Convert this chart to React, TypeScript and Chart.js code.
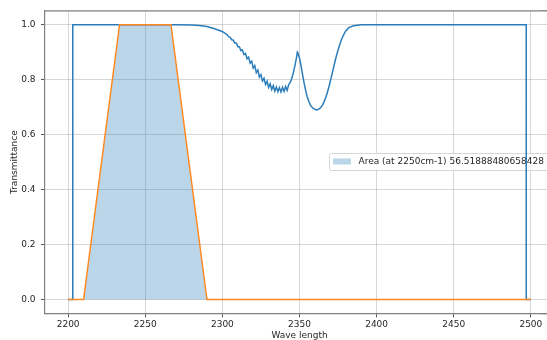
import React, { useEffect, useRef } from "react";
import { Chart, registerables } from "chart.js";

Chart.register(...registerables);

// Transmittance curve (blue)
const blueX: number[] = [
  2200, 2203, 2203, 2270, 2280, 2285, 2290, 2295, 2299, 2301, 2302, 2303,
  2304, 2305, 2306, 2307, 2308, 2309,
  2310, 2311, 2312, 2313, 2314, 2315, 2316, 2317, 2318, 2319, 2320,
  2321, 2322, 2323, 2324, 2325, 2326, 2327, 2328, 2329, 2330, 2331,
  2332, 2333, 2334, 2335, 2336, 2337, 2338, 2339, 2340, 2341, 2342,
  2343, 2344, 2345, 2346, 2347, 2348, 2348.6, 2349, 2350, 2351, 2352,
  2353, 2354, 2355, 2356, 2357, 2358, 2359, 2360, 2361, 2362, 2363,
  2364, 2365, 2366, 2367, 2368, 2369, 2370, 2371, 2372, 2373, 2374,
  2375, 2376, 2377, 2378, 2379, 2380, 2382, 2385, 2390, 2497, 2497, 2500,
];
const blueY: number[] = [
  0, 0, 1, 1, 0.999, 0.997, 0.993, 0.985, 0.977, 0.972, 0.967, 0.964,
  0.956, 0.954, 0.945, 0.944, 0.933, 0.933,
  0.92, 0.92, 0.905, 0.908, 0.891, 0.895, 0.876, 0.882, 0.86, 0.867, 0.842,
  0.851, 0.825, 0.835, 0.809, 0.818, 0.795, 0.805, 0.782, 0.794, 0.772, 0.785,
  0.764, 0.778, 0.758, 0.773, 0.756, 0.771, 0.755, 0.772, 0.757, 0.775, 0.761,
  0.782, 0.79, 0.805, 0.825, 0.85, 0.878, 0.9, 0.897, 0.878, 0.85, 0.818,
  0.787, 0.76, 0.738, 0.721, 0.708, 0.7, 0.695, 0.692, 0.69, 0.691, 0.694,
  0.7, 0.708, 0.72, 0.735, 0.752, 0.772, 0.795, 0.818, 0.842, 0.866, 0.888,
  0.908, 0.926, 0.942, 0.956, 0.967, 0.977, 0.989, 0.996, 1, 1, 0, 0,
];

// Filter window (orange trapezoid)
const orangeX: number[] = [2200, 2210, 2233.33, 2266.67, 2290, 2500];
const orangeY: number[] = [0, 0, 1, 1, 0, 0];

const xTicks: number[] = [2200, 2250, 2300, 2350, 2400, 2450, 2500];
const yTicks: number[] = [0, 0.2, 0.4, 0.6, 0.8, 1.0];

const legendLabel = "Area (at 2250cm-1) 56.51888480658428";
const xTitle = "Wave length";
const yTitle = "Transmittance";

const FONT = "DejaVu Sans";
const TEXT = "#262626";
const GRID = "rgba(176,176,176,0.5)";
const SPINE = "#808080";
const FILL = "rgba(31,119,180,0.3)";

const align = (p: number, w: number) => Math.round(p - w / 2) + w / 2;

function drawLegend(ctx: CanvasRenderingContext2D) {
  const bx = 329.5, by = 153.5, bw = 240, bh = 17;
  const r = 2;
  ctx.fillStyle = "rgba(255,255,255,0.9)";
  ctx.fillRect(bx, by, bw, bh);
  ctx.beginPath();
  ctx.moveTo(bx + bw, by);
  ctx.lineTo(bx + r, by);
  ctx.arcTo(bx, by, bx, by + r, r);
  ctx.lineTo(bx, by + bh - r);
  ctx.arcTo(bx, by + bh, bx + r, by + bh, r);
  ctx.lineTo(bx + bw, by + bh);
  ctx.strokeStyle = "#d6d6d6";
  ctx.lineWidth = 1;
  ctx.stroke();
  ctx.fillStyle = FILL;
  ctx.fillRect(333, 158.5, 18, 6);
  ctx.fillStyle = TEXT;
  ctx.font = `9px "${FONT}"`;
  ctx.textBaseline = "middle";
  ctx.textAlign = "left";
  ctx.fillText(legendLabel, 358.5, 162);
}

export default function App() {
  const ref = useRef<HTMLCanvasElement | null>(null);

  useEffect(() => {
    if (!ref.current) return;
    const blue = blueX.map((x, i) => ({ x, y: blueY[i] }));
    const orange = orangeX.map((x, i) => ({ x, y: orangeY[i] }));
    const area = orangeX.map((x, i) => ({ x, y: orangeY[i] }));

    const framePlugin = {
      id: "frame",
      beforeDatasetsDraw(chart: any) {
        const { ctx } = chart;
        ctx.save();
        drawLegend(ctx);
        ctx.restore();
      },
      afterDraw(chart: any) {
        const { ctx, chartArea, scales } = chart;
        // top spine
        ctx.save();
        ctx.strokeStyle = SPINE;
        ctx.lineWidth = 1.2;
        ctx.beginPath();
        ctx.moveTo(chartArea.left, chartArea.top);
        ctx.lineTo(chartArea.right, chartArea.top);
        ctx.stroke();
        ctx.restore();

        // repaint the thin strip at the right edge of the visible picture
        const sx = 541, sw = 20;
        ctx.save();
        ctx.beginPath();
        ctx.rect(sx, 0, sw, 340);
        ctx.clip();
        ctx.fillStyle = "#fff";
        ctx.fillRect(sx, chartArea.top, sw, chartArea.bottom - chartArea.top);
        ctx.strokeStyle = GRID;
        ctx.lineWidth = 1;
        for (const v of yTicks) {
          const py = align(scales.y.getPixelForValue(v), 1);
          ctx.beginPath();
          ctx.moveTo(sx, py);
          ctx.lineTo(sx + sw, py);
          ctx.stroke();
        }
        drawLegend(ctx);
        ctx.strokeStyle = SPINE;
        ctx.lineWidth = 1.2;
        ctx.beginPath();
        ctx.moveTo(sx, chartArea.top);
        ctx.lineTo(sx + sw, chartArea.top);
        ctx.stroke();
        const by = align(chartArea.bottom, 1.2);
        ctx.beginPath();
        ctx.moveTo(sx, by);
        ctx.lineTo(sx + sw, by);
        ctx.stroke();
        ctx.restore();
      },
    };

    const chart = new Chart(ref.current, {
      type: "line",
      data: {
        datasets: [
          {
            label: "area",
            data: area,
            borderWidth: 0,
            pointRadius: 0,
            fill: "origin",
            backgroundColor: FILL,
            borderColor: "rgba(0,0,0,0)",
            tension: 0,
            order: 3,
          },
          {
            label: "T",
            data: blue,
            borderColor: "#2a7dba",
            borderWidth: 1.5,
            pointRadius: 0,
            fill: false,
            tension: 0,
            order: 2,
          },
          {
            label: "window",
            data: orange,
            borderColor: "#ff8a22",
            borderWidth: 1.5,
            pointRadius: 0,
            fill: false,
            tension: 0,
            order: 1,
          },
        ],
      },
      options: {
        animation: false,
        responsive: false,
        layout: { padding: { top: 10.7, right: 66, left: 0, bottom: 0 } },
        plugins: { legend: { display: false }, tooltip: { enabled: false } },
        scales: {
          x: {
            type: "linear",
            min: 2185,
            max: 2515,
            afterBuildTicks: (s: any) => {
              s.ticks = xTicks.map((v) => ({ value: v }));
            },
            afterFit: (s: any) => {
              s.height = 26.7;
            },
            grid: {
              color: GRID,
              lineWidth: 1,
              tickLength: 4,
              tickColor: "#555",
              drawTicks: true,
            },
            border: { color: SPINE, width: 1.2 },
            ticks: {
              font: { family: FONT, size: 9 },
              color: TEXT,
              padding: 2,
              maxRotation: 0,
              autoSkip: false,
              callback: (v: any) => String(v),
            },
            title: {
              display: true,
              text: xTitle,
              font: { family: FONT, size: 9 },
              color: TEXT,
              padding: { top: 0, bottom: -1 },
            },
          },
          y: {
            type: "linear",
            min: -0.05,
            max: 1.05,
            afterBuildTicks: (s: any) => {
              s.ticks = yTicks.map((v) => ({ value: v }));
            },
            afterFit: (s: any) => {
              s.width = 45;
            },
            grid: {
              color: GRID,
              lineWidth: 1,
              tickLength: 4,
              tickColor: "#555",
              drawTicks: true,
            },
            border: { color: SPINE, width: 1.2 },
            ticks: {
              font: { family: FONT, size: 9 },
              color: TEXT,
              padding: 5.5,
              autoSkip: false,
              callback: (v: any) => Number(v).toFixed(1),
            },
            title: {
              display: true,
              text: yTitle,
              font: { family: FONT, size: 9 },
              color: TEXT,
              padding: { top: 9.6, bottom: 0 },
            },
          },
        },
      },
      plugins: [framePlugin],
    });
    return () => chart.destroy();
  }, []);

  return (
    <div
      style={{
        position: "fixed",
        left: 0,
        top: 0,
        width: 547,
        height: 340,
        overflow: "hidden",
        background: "#fff",
      }}
    >
      <canvas ref={ref} width={620} height={340} style={{ display: "block" }} />
    </div>
  );
}
